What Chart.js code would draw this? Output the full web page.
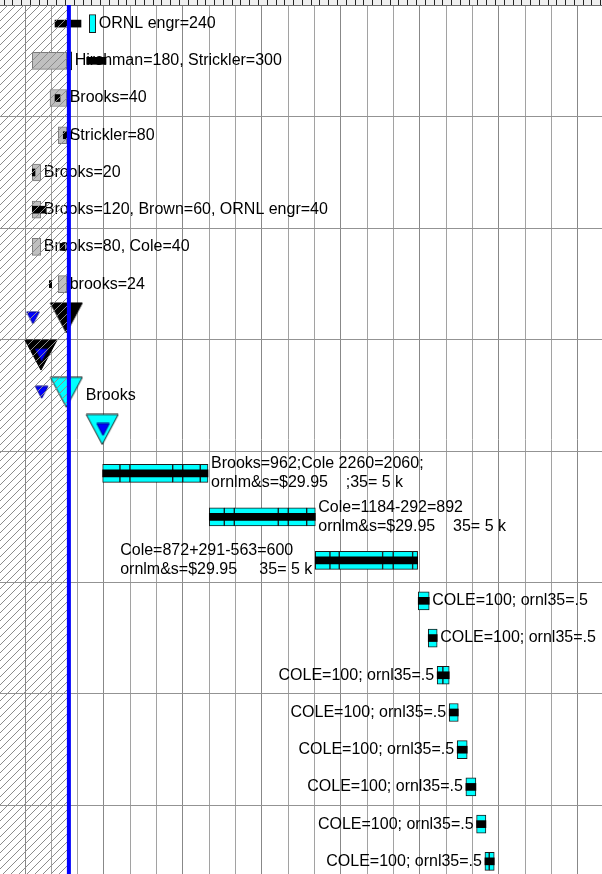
<!DOCTYPE html>
<html>
<head>
<meta charset="utf-8">
<title>Task schedule</title>
<script src="https://cdn.jsdelivr.net/npm/chart.js@4.4.1/dist/chart.umd.min.js"></script>
<style>
  body { margin: 0; background: #fff; }
  #wrap { position: relative; width: 602px; height: 874px; }
</style>
</head>
<body>
<div id="wrap"><canvas id="gantt"></canvas></div>
<script>
// time is counted in thirds of a month, 0 = first grid column
const statusDate = 5.0;
const timeMin = -2.85;
const timeMax = 65.75;

const rowLabels = [
  ['ORNL engr=240'],
  ['Hirshman=180, Strickler=300'],
  ['Brooks=40'],
  ['Strickler=80'],
  ['Brooks=20'],
  ['Brooks=120, Brown=60, ORNL engr=40'],
  ['Brooks=80, Cole=40'],
  ['brooks=24'],
  [],
  [],
  ['Brooks'],
  [],
  ['Brooks=962;Cole 2260=2060;', 'ornlm&s=$29.95    ;35= 5 k'],
  ['Cole=1184-292=892', 'ornlm&s=$29.95    35= 5 k'],
  ['Cole=872+291-563=600', 'ornlm&s=$29.95     35= 5 k'],
  ['COLE=100; ornl35=.5'],
  ['COLE=100; ornl35=.5'],
  ['COLE=100; ornl35=.5'],
  ['COLE=100; ornl35=.5'],
  ['COLE=100; ornl35=.5'],
  ['COLE=100; ornl35=.5'],
  ['COLE=100; ornl35=.5'],
  ['COLE=100; ornl35=.5']
];

// [row, start, finish]
const baselineBars = [
  [1, 0.83, 4.75],
  [2, 2.85, 4.75],
  [3, 3.79, 4.75],
  [4, 0.83, 1.79],
  [5, 0.83, 1.79],
  [6, 0.83, 1.79],
  [7, 3.79, 4.75]
];

const progressBars = [
  [0, 3.42, 6.38],
  [1, 7.03, 9.23],
  [2, 3.42, 3.99],
  [3, 4.36, 5.32],
  [4, 0.83, 1.14],
  [5, 0.83, 2.28],
  [6, 3.99, 4.56],
  [7, 2.77, 3.04],
  [12, 8.85, 20.85],
  [13, 21.0, 33.08],
  [14, 33.08, 44.74],
  [15, 44.81, 46.06],
  [16, 45.95, 46.97],
  [17, 46.97, 48.34],
  [18, 48.34, 49.37],
  [19, 49.25, 50.39],
  [20, 50.24, 51.38],
  [21, 51.46, 52.52],
  [22, 52.41, 53.47]
];

// [row, split points of the task bar]
const taskSegments = [
  [0, [7.33, 8.06]],
  [1, [4.93, 5.32]],
  [12, [8.85, 10.82, 11.96, 16.83, 17.97, 19.97, 20.85]],
  [13, [21.0, 22.71, 23.85, 28.86, 30.0, 32.1, 33.08]],
  [14, [33.08, 34.75, 35.81, 40.75, 41.96, 44.17, 44.74]],
  [15, [44.81, 46.06]],
  [16, [45.95, 46.97]],
  [17, [46.97, 47.62, 48.34]],
  [18, [48.34, 49.37]],
  [19, [49.25, 50.39]],
  [20, [50.24, 51.38]],
  [21, [51.46, 52.52]],
  [22, [52.41, 52.9, 53.47]]
];

// [row, date]
const doneMilestones = [[8, 4.71], [9, 1.82]];
const taskMilestones = [[10, 4.71], [11, 8.8]];
const baseMilestones = [[8, 0.91], [9, 1.9], [10, 1.9], [11, 8.89]];

// ---- layout ----
const labelLeft = new Set([14, 17, 18, 19, 20, 21, 22]);
const rowSize = rowLabels.map(l => (l.length > 1 ? 1.17 : 1));
const rowCenter = [];
const groupLines = [];
let acc = 0;
rowSize.forEach((h, i) => {
  rowCenter.push(acc + h / 2);
  acc += h;
  if ((i + 1) % 3 === 0) groupLines.push(acc);
});
const rowsVisible = 23.35;

function triangleMark(w, h, fill, stroke, lift) {
  const c = document.createElement('canvas');
  c.width = Math.ceil(w) + 2;
  c.height = Math.ceil(h + 2 * lift) + 2;
  const g = c.getContext('2d');
  const cx = c.width / 2;
  g.beginPath();
  g.moveTo(cx - w / 2, 1);
  g.lineTo(cx + w / 2, 1);
  g.lineTo(cx, 1 + h);
  g.closePath();
  g.fillStyle = fill;
  g.fill();
  if (stroke) {
    g.strokeStyle = stroke;
    g.lineWidth = 1;
    g.stroke();
  }
  return c;
}

const bigBlack = triangleMark(32, 30, '#000000', '#000000', 3.3);
const bigCyan = triangleMark(32, 30, '#00ffff', '#1a1a1a', 3.3);
const smallBlue = triangleMark(12.5, 12, '#0000ff', '#00008a', 3.3);

function rowRightEdge(r, x) {
  let edge = -Infinity;
  baselineBars.forEach(([row, , b]) => { if (row === r) edge = Math.max(edge, x.getPixelForValue(b)); });
  taskSegments.forEach(([row, br]) => { if (row === r) edge = Math.max(edge, x.getPixelForValue(br[br.length - 1])); });
  doneMilestones.concat(taskMilestones).forEach(([row, d]) => {
    if (row === r) edge = Math.max(edge, x.getPixelForValue(d) + 16.5);
  });
  return edge;
}

function rowLeftEdge(r, x) {
  let edge = Infinity;
  taskSegments.forEach(([row, br]) => { if (row === r) edge = Math.min(edge, x.getPixelForValue(br[0])); });
  return edge;
}

const rowText = {
  id: 'rowText',
  beforeDatasetsDraw(chart) {
    const { ctx, scales: { x, y } } = chart;
    ctx.save();
    ctx.font = '16px "Liberation Sans", Arial, sans-serif';
    ctx.fillStyle = '#000';
    ctx.textBaseline = 'middle';
    rowLabels.forEach((lines, r) => {
      if (!lines.length) return;
      const cy = y.getPixelForValue(rowCenter[r]);
      let px;
      if (labelLeft.has(r)) {
        const w = Math.max(...lines.map(t => ctx.measureText(t).width));
        px = rowLeftEdge(r, x) - 3 - w;
      } else {
        px = rowRightEdge(r, x) + 3;
      }
      lines.forEach((t, j) => ctx.fillText(t, px, cy + (j - (lines.length - 1) / 2) * 19));
    });
    ctx.restore();
  }
};

const rulerBack = {
  id: 'rulerBack',
  beforeDraw(chart) {
    const { ctx, chartArea } = chart;
    ctx.save();
    ctx.fillStyle = '#efefef';
    ctx.fillRect(0, 0, chart.width, chartArea.top);
    ctx.restore();
  }
};

const statusLine = {
  id: 'statusLine',
  afterDatasetsDraw(chart) {
    const { ctx, chartArea: { left, top, bottom }, scales: { x } } = chart;
    const xs = x.getPixelForValue(statusDate);
    const h = bottom - top;
    ctx.save();
    ctx.beginPath();
    ctx.rect(left, top, xs - 2 - left, h);
    ctx.clip();
    ctx.beginPath();
    ctx.strokeStyle = '#8c8c8c';
    ctx.lineWidth = 1;
    for (let x0 = left - h; x0 < xs; x0 += 8) {
      ctx.moveTo(x0, bottom);
      ctx.lineTo(x0 + h, top);
    }
    ctx.stroke();
    ctx.restore();
    ctx.save();
    ctx.fillStyle = '#0000ff';
    ctx.fillRect(xs - 2, top, 4, h);
    ctx.restore();
  }
};

const barCommon = {
  type: 'bar',
  indexAxis: 'y',
  grouped: false,
  borderSkipped: false,
  xAxisID: 'x',
  yAxisID: 'y'
};

const taskData = [];
taskSegments.forEach(([r, br]) => {
  for (let i = 1; i < br.length; i++) taskData.push({ x: [br[i - 1], br[i]], y: rowCenter[r] });
});

new Chart(document.getElementById('gantt'), {
  type: 'bar',
  data: {
    datasets: [
      {
        type: 'scatter',
        label: 'Baseline milestone',
        data: baseMilestones.map(([r, d]) => ({ x: d, y: rowCenter[r] })),
        pointStyle: smallBlue,
        pointRadius: 7,
        xAxisID: 'x',
        yAxisID: 'y'
      },
      {
        type: 'scatter',
        label: 'Completed milestone',
        data: doneMilestones.map(([r, d]) => ({ x: d, y: rowCenter[r] })),
        pointStyle: bigBlack,
        pointRadius: 16,
        xAxisID: 'x',
        yAxisID: 'y'
      },
      {
        type: 'scatter',
        label: 'Milestone',
        data: taskMilestones.map(([r, d]) => ({ x: d, y: rowCenter[r] })),
        pointStyle: bigCyan,
        pointRadius: 16,
        xAxisID: 'x',
        yAxisID: 'y'
      },
      Object.assign({}, barCommon, {
        label: 'Progress',
        data: progressBars.map(([r, a, b]) => ({ x: [a, b], y: rowCenter[r] })),
        backgroundColor: '#000000',
        borderWidth: 0,
        barThickness: 7
      }),
      Object.assign({}, barCommon, {
        label: 'Task',
        data: taskData,
        backgroundColor: '#00ffff',
        borderColor: '#1a1a1a',
        borderWidth: 1,
        barThickness: 18
      }),
      Object.assign({}, barCommon, {
        label: 'Baseline',
        data: baselineBars.map(([r, a, b]) => ({ x: [a, b], y: rowCenter[r] })),
        backgroundColor: '#c0c0c0',
        borderColor: '#7a7a7a',
        borderWidth: 1,
        barThickness: 17
      })
    ]
  },
  options: {
    responsive: true,
    maintainAspectRatio: false,
    animation: false,
    layout: { padding: 0, autoPadding: false },
    plugins: {
      legend: { display: false },
      tooltip: { enabled: false }
    },
    scales: {
      x: {
        type: 'linear',
        position: 'top',
        offset: false,
        min: timeMin,
        max: timeMax,
        afterBuildTicks: axis => {
          const t = [];
          for (let v = 0; v <= timeMax; v += 3) t.push({ value: v });
          axis.ticks = t;
        },
        ticks: { display: false },
        border: { display: false },
        grid: {
          offset: false,
          drawTicks: false,
          lineWidth: 1,
          color: ctx => (ctx.tick && ctx.tick.value % 9 === 0 ? '#888888' : '#a2a2a2')
        }
      },
      xr: {
        type: 'linear',
        position: 'top',
        offset: false,
        min: timeMin,
        max: timeMax,
        afterBuildTicks: axis => {
          const t = [];
          for (let v = -3 + 0.61; v <= timeMax; v += 1) if (v >= timeMin) t.push({ value: v });
          axis.ticks = t;
        },
        ticks: { display: false },
        border: { display: true, color: '#6e6e6e', width: 1 },
        grid: {
          offset: false,
          drawOnChartArea: false,
          drawTicks: true,
          tickLength: 5,
          tickColor: '#222',
          tickWidth: 1
        }
      },
      y: {
        type: 'linear',
        reverse: true,
        offset: false,
        min: 0,
        max: rowsVisible,
        afterBuildTicks: axis => {
          axis.ticks = groupLines.map(v => ({ value: v }));
        },
        ticks: { display: false },
        border: { display: false },
        grid: { offset: false, drawTicks: false, color: '#939393', lineWidth: 1 }
      }
    }
  },
  plugins: [rulerBack, rowText, statusLine]
});
</script>
</body>
</html>
